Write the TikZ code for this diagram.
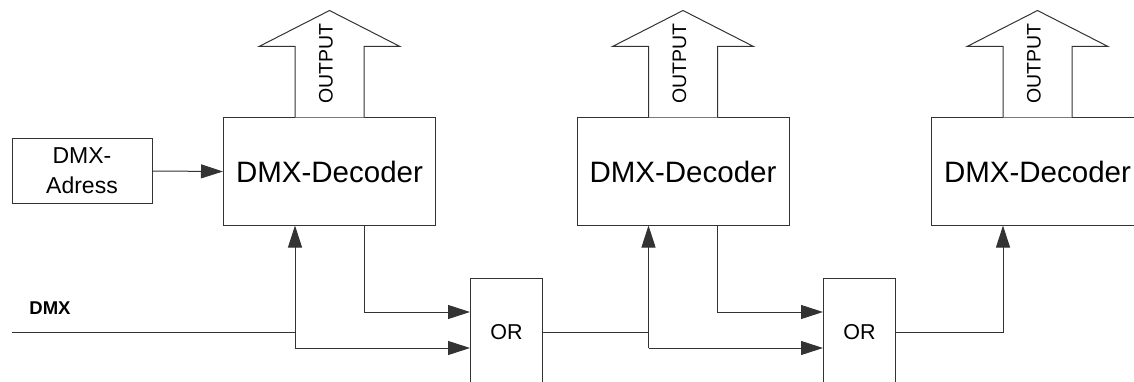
\documentclass[tikz,border=0pt]{standalone}
\usepackage{fontspec}
\setmainfont{Liberation Sans}
\usetikzlibrary{arrows.meta,calc}
\begin{document}
\begin{tikzpicture}[x=1pt,y=-1pt,
  line width=1pt,
  dec/.style={draw=black!80, line width=1pt, minimum width=212pt, minimum height=107pt, inner sep=0pt, font=\fontsize{29.5}{35}\selectfont},
  orbox/.style={draw=black!80, line width=1pt, minimum width=72pt, minimum height=108pt, inner sep=0pt, font=\fontsize{21.5}{26}\selectfont},
  adr/.style={draw=black!80, line width=1pt, minimum width=140pt, minimum height=64pt, inner sep=0pt, align=center, font=\fontsize{23}{30}\selectfont},
  outarrow/.style={draw=black!80, line width=1pt, fill=white, line join=miter},
  outlabel/.style={rotate=90, inner sep=0pt, font=\fontsize{19.5}{22}\selectfont},
  conn/.style={draw=black!80, line width=1pt, -{Triangle[length=22pt,width=14pt]}},
  wire/.style={draw=black!80, line width=1pt}
]
\useasboundingbox (0,0) rectangle (1134,382);
\clip (0,0) rectangle (1134,382);

% nodes
\node[adr] (adr) at (82,171) {DMX-\\Adress};
\node[dec] (dec1) at (329.5,171.5) {DMX-Decoder};
\node[dec] (dec2) at (683,171.5) {DMX-Decoder};
\node[dec] (dec3) at (1037.5,171.5) {DMX-Decoder};
\node[orbox] (or1) at (506.5,332) {OR};
\node[orbox] (or2) at (859.5,332) {OR};
\node[font=\bfseries\fontsize{18.5}{22}\selectfont, inner sep=0pt] (dmx) at (50,308) {DMX};

% output arrows
\foreach \d in {dec1,dec2,dec3}{
  \draw[outarrow] ($(\d.north)+(-34.5,0)$) -- ++(0,-71) -- ++(-36,0)
     -- ($(\d.north)+(0,-107)$) -- ($(\d.north)+(70.5,-71)$) -- ++(-36,0)
     -- ($(\d.north)+(34.5,0)$);
  \node[outlabel] at ($(\d.north)+(-3.5,-54)$) {OUTPUT};
}

% coordinates
\coordinate (dmxstart) at (12,332);
\coordinate (j1) at ($(dec1.south)+(-34.5,0)$);
\coordinate (j2) at ($(dec2.south)+(-34.5,0)$);
\coordinate (j3) at ($(dec3.south)+(-34.5,0)$);

% connections
\draw[conn] (adr.east) -- (dec1.west);

\draw[wire] (dmxstart) -- (j1 |- or1.center);
\draw[conn] (j1 |- 0,348) -- (j1);
\draw[conn] (j1 |- 0,348) -- (or1.west |- 0,348);
\draw[conn] ($(dec1.south)+(34.5,0)$) |- (or1.west |- 0,312);

\draw[wire] (or1.east |- 0,332) -- (j2 |- 0,332);
\draw[conn] (j2 |- 0,348) -- (j2);
\draw[conn] (j2 |- 0,348) -- (or2.west |- 0,348);
\draw[conn] ($(dec2.south)+(34.5,0)$) |- (or2.west |- 0,312);

\draw[conn] (or2.east |- 0,332) -| (j3);
\end{tikzpicture}
\end{document}
